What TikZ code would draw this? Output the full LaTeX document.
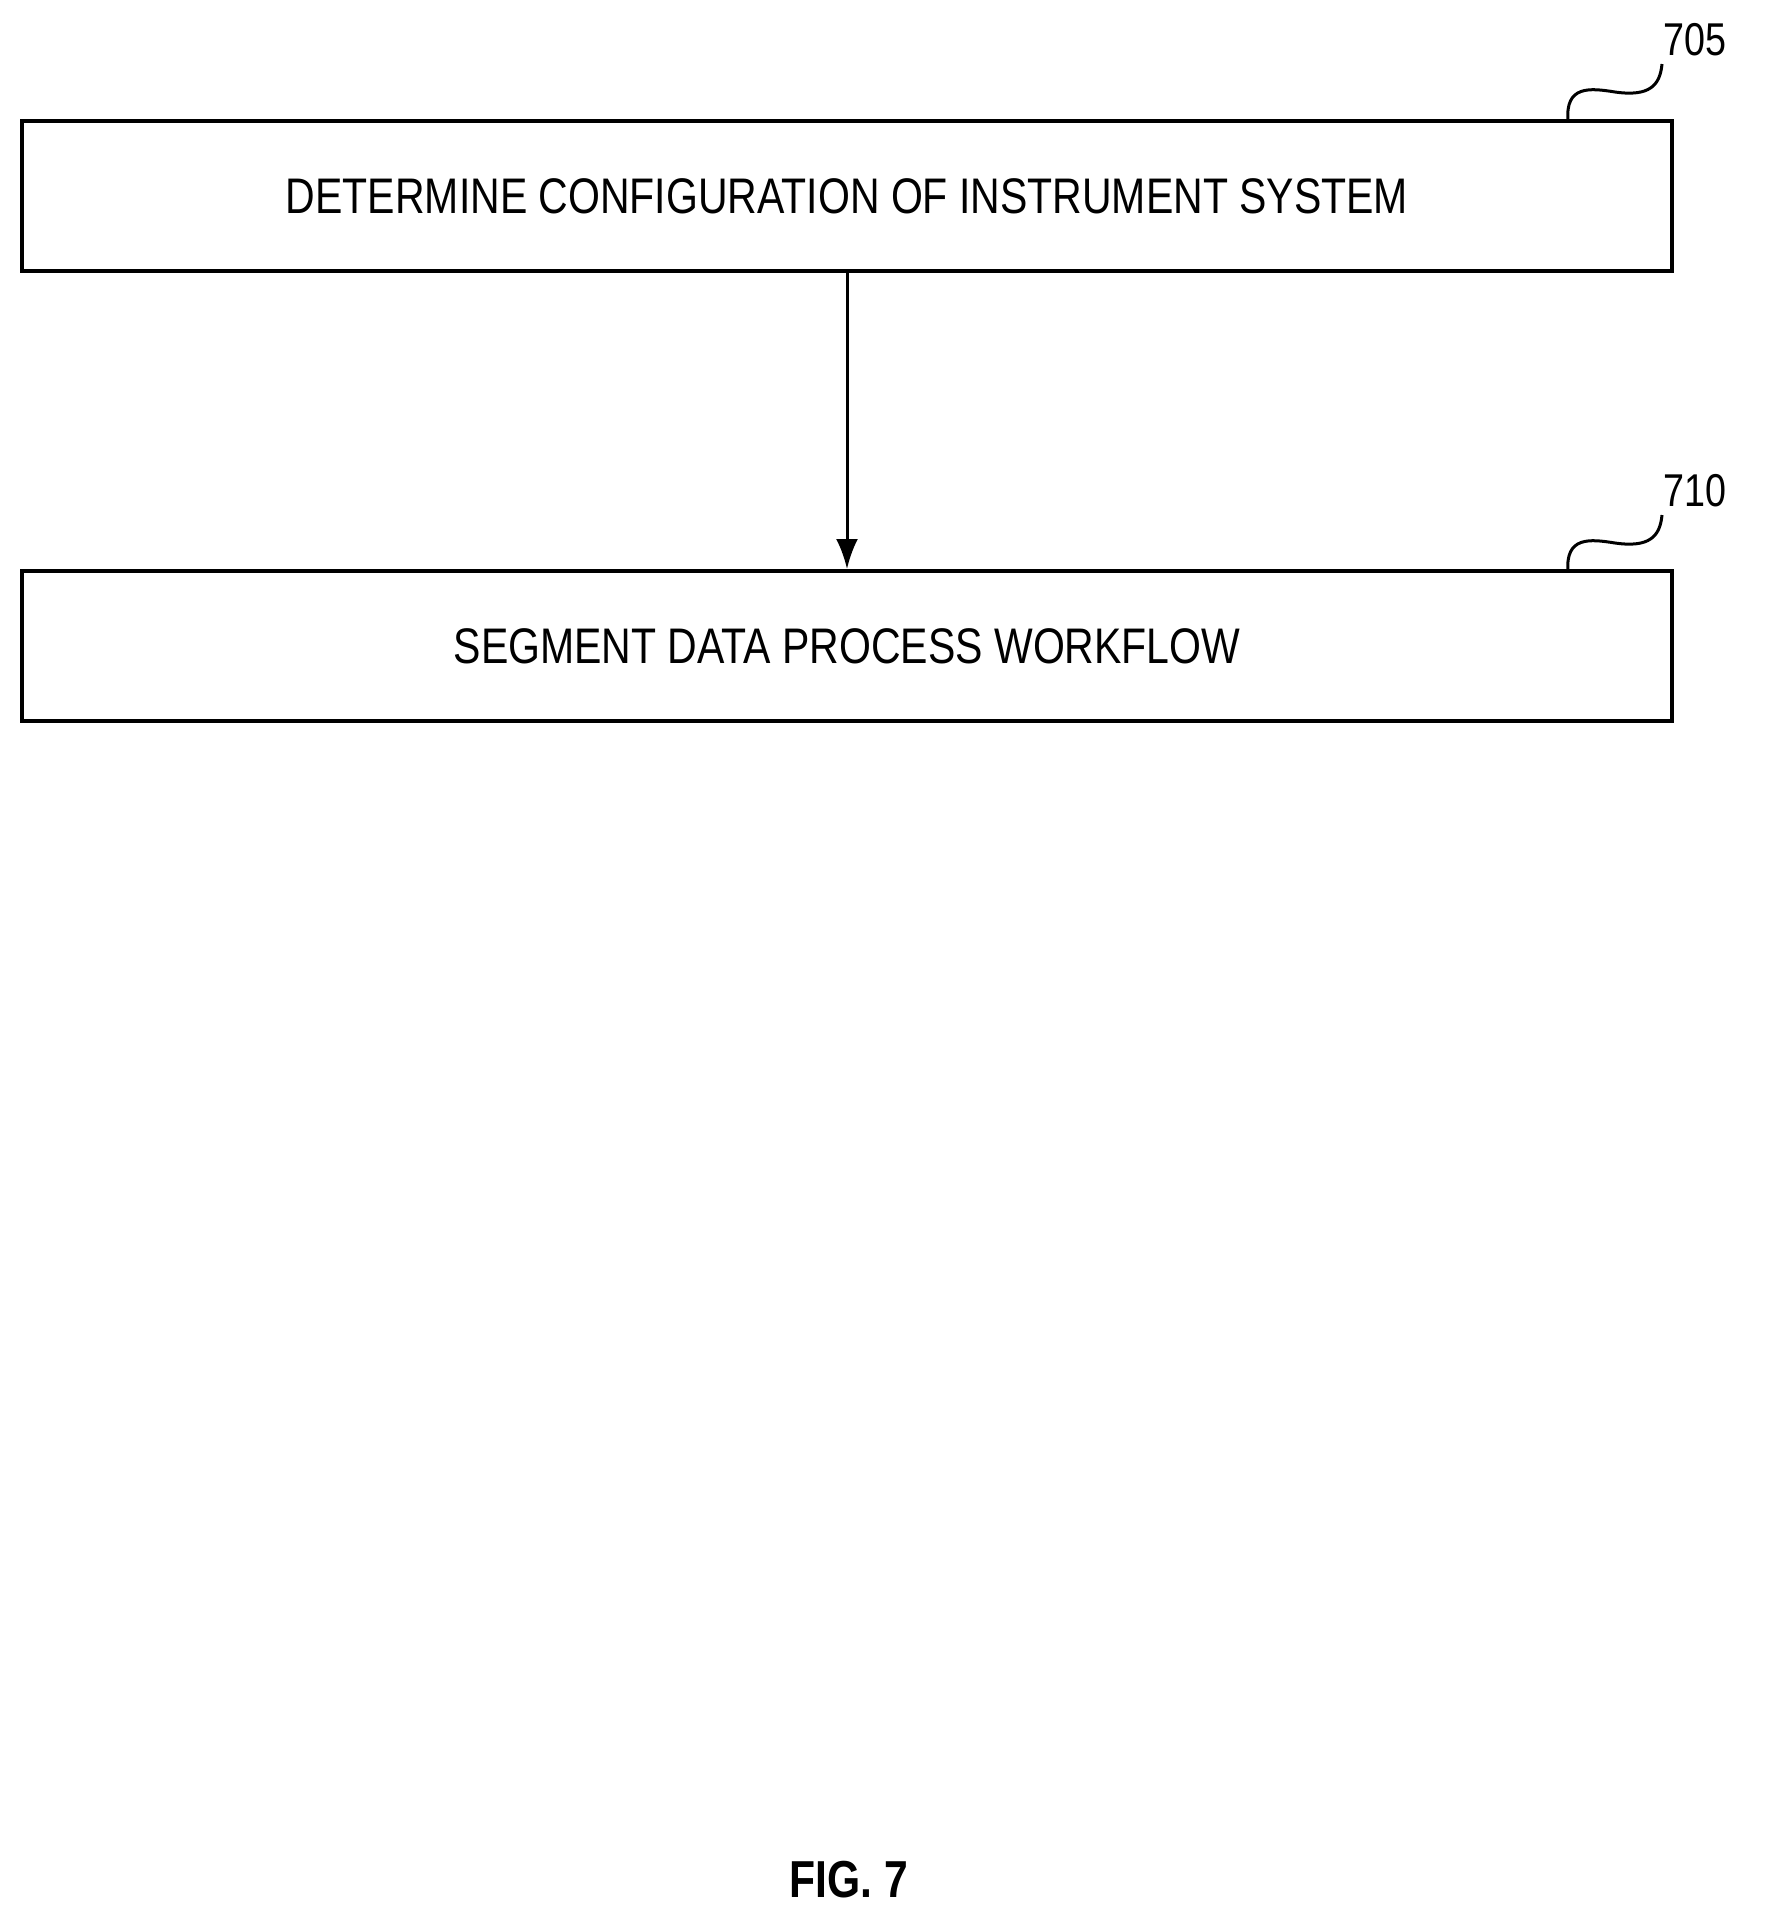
\documentclass[tikz,border=0pt]{standalone}
\usepackage{fontspec}
\setmainfont{Liberation Sans}[FakeStretch=0.82]
\usetikzlibrary{positioning,arrows.meta}

\begin{document}
\begin{tikzpicture}[x=1pt,y=-1pt,
  stepbox/.style={draw,line width=4pt,minimum width=1650pt,minimum height=150pt,font=\fontsize{50}{60}\selectfont},
  reflabel/.style={font=\fontsize{46}{55}\selectfont,anchor=west}]
  \useasboundingbox (0,0) rectangle (1770,1923);
  \node[stepbox] (determine) at (847,196) {DETERMINE CONFIGURATION OF INSTRUMENT SYSTEM};
  \node[stepbox] (segment) at (847,646) {SEGMENT DATA PROCESS WORKFLOW};
  \draw[line width=3pt,-{Latex[length=30pt,width=22pt]}] (determine) -- (segment);
  % reference numerals
  \node[reflabel] (n705) at (1660,40) {705};
  \node[reflabel] (n710) at (1660,491) {710};
  \draw[line width=3pt] (1568,121) .. controls (1565,85) and (1590,88) .. (1615,92)
    .. controls (1650,97) and (1660,85) .. (1662,64);
  \draw[line width=3pt] (1568,572) .. controls (1565,536) and (1590,539) .. (1615,543)
    .. controls (1650,548) and (1660,536) .. (1662,515);
  \node[font=\bfseries\fontsize{52}{62}\selectfont] (fig) at (849,1880) {FIG. 7};
\end{tikzpicture}
\end{document}
